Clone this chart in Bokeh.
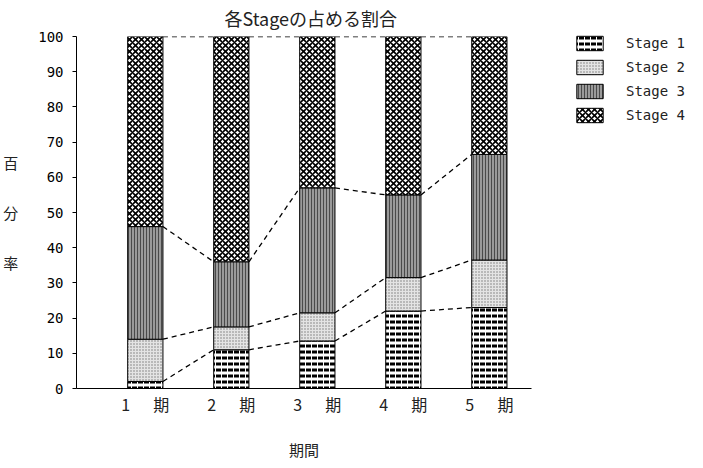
from bokeh.plotting import figure
from bokeh.models import ColumnDataSource, Legend, LegendItem, FixedTicker, Range1d
from bokeh.embed import file_html
from bokeh.resources import INLINE

periods = [1, 2, 3, 4, 5]
period_labels = ["1\u3000\u00a0\u00a0期", "2\u3000\u00a0\u00a0期", "3\u3000\u00a0\u00a0期", "4\u3000\u00a0\u00a0期", "5\u3000\u00a0\u00a0期"]
stage_names = ["Stage 1", "Stage 2", "Stage 3", "Stage 4"]
stage1 = [2, 11, 13.5, 22, 23]
stage2 = [12, 6.5, 8, 9.5, 13.5]
stage3 = [32, 18.5, 35.5, 23.5, 30]
stage4 = [54, 64, 43, 45, 33.5]
y_ticks = [0, 10, 20, 30, 40, 50, 60, 70, 80, 90, 100]

series = [stage1, stage2, stage3, stage4]
styles = [
    dict(fill_color="white", hatch_pattern="horizontal_dash", hatch_color="black", hatch_scale=6, hatch_weight=3),
    dict(fill_color="#e4e4e4", hatch_pattern="dot", hatch_color="#777777", hatch_scale=3, hatch_weight=1),
    dict(fill_color="#9a9a9a", hatch_pattern="vertical_line", hatch_color="#4a4a4a", hatch_scale=3, hatch_weight=1),
    dict(fill_color="white", hatch_pattern="diagonal_cross", hatch_color="black", hatch_scale=6, hatch_weight=1.6),
]

p = figure(frame_width=455, frame_height=352, output_backend="svg", toolbar_location=None,
           x_range=Range1d(0.2, 5.49), y_range=Range1d(0, 100),
           min_border_left=67, min_border_right=10, min_border_top=28, min_border_bottom=56)
p.title.text = "各Stageの占める割合"
p.title.align = "left"
p.title.vertical_align = "top"
p.title.text_font = "Noto Sans CJK JP"
p.title.text_font_size = "18px"
p.title.text_font_style = "normal"
p.title.text_color = "#222222"
p.title.offset = 148
p.title.standoff = 8
p.outline_line_color = None
p.xgrid.visible = False
p.ygrid.visible = False

bar_w = 0.41
bottoms = [0] * len(periods)
tops_all = []
items = []
for name, vals, st in zip(stage_names, series, styles):
    tops = [b + v for b, v in zip(bottoms, vals)]
    src = ColumnDataSource(dict(x=periods, bottom=bottoms, top=tops))
    r = p.vbar(x="x", bottom="bottom", top="top", width=bar_w, source=src,
               line_color="black", line_width=1, **st)
    items.append(LegendItem(label=name, renderers=[r]))
    tops_all.append(tops)
    bottoms = tops

# dashed connectors
for tops in tops_all:
    x0 = [periods[i] + bar_w / 2 for i in range(len(periods) - 1)]
    x1 = [periods[i + 1] - bar_w / 2 for i in range(len(periods) - 1)]
    p.segment(x0=x0, y0=tops[:-1], x1=x1, y1=tops[1:], line_color="black",
              line_width=1.3, line_dash="5 4")

# axes
p.yaxis.ticker = FixedTicker(ticks=y_ticks)
p.yaxis.minor_tick_line_color = None
p.yaxis.major_tick_out = 4
p.yaxis.major_tick_in = 0
p.yaxis.major_label_text_font = "DejaVu Sans Mono"
p.yaxis.major_label_text_font_size = "14px"
p.yaxis.major_label_text_color = "black"
p.yaxis.major_label_standoff = 9
p.yaxis.axis_label = "百\n\n分\n\n率"
p.yaxis.axis_label_orientation = "horizontal"
p.yaxis.axis_label_text_font = "Noto Sans CJK JP"
p.yaxis.axis_label_text_font_style = "normal"
p.yaxis.axis_label_text_font_size = "15px"
p.yaxis.axis_label_text_color = "#222222"
p.yaxis.axis_label_standoff = 17

p.xaxis.ticker = FixedTicker(ticks=periods)
p.xaxis.major_label_overrides = {k: v for k, v in zip(periods, period_labels)}
p.xaxis.major_tick_line_color = None
p.xaxis.minor_tick_line_color = None
p.xaxis.major_label_text_font = "Noto Sans CJK JP"
p.xaxis.major_label_text_font_size = "16px"
p.xaxis.major_label_text_color = "#222222"
p.xaxis.major_label_standoff = -3
p.xaxis.axis_label = "期間"
p.xaxis.axis_label_text_font = "Noto Sans CJK JP"
p.xaxis.axis_label_text_font_style = "normal"
p.xaxis.axis_label_text_font_size = "15px"
p.xaxis.axis_label_text_color = "#222222"
p.xaxis.axis_label_standoff = 20

legend = Legend(items=items, location=(42, 264), label_text_font="DejaVu Sans Mono",
                label_text_font_size="14px", label_text_color="#222222",
                glyph_width=33, glyph_height=18,
                label_height=18, spacing=6, label_standoff=20,
                border_line_color=None, background_fill_alpha=0,
                margin=0, padding=0)
p.add_layout(legend, "right")

open("out.html", "w").write(file_html(p, INLINE))
